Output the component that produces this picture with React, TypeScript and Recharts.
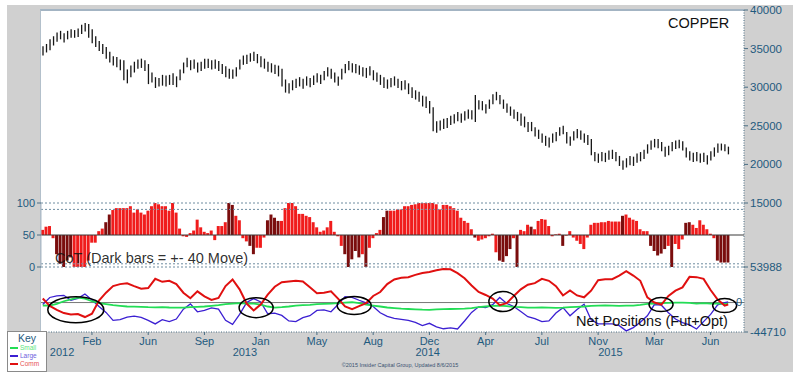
import React from 'react';
import { ComposedChart, Bar, Line, XAxis, YAxis, ReferenceLine, ReferenceDot, Cell } from 'recharts';

// one bar per week, week 0 = late Nov 2011
const monthTicks = [14, 30, 46, 62, 78, 94, 110, 126, 142, 158, 174, 190];
const monthLabels = ['Feb', 'Jun', 'Sep', 'Jan', 'May', 'Aug', 'Dec', 'Apr', 'Jul', 'Nov', 'Mar', 'Jun'];
const yearTicks = [5.5, 57.5, 109.5, 161.5];
const yearLabels = ['2012', '2013', '2014', '2015'];

const priceTicks = [15000, 20000, 25000, 30000, 35000, 40000];
const cotTicks = [0, 50, 100];
const netTicks = [-44710, 53988];

const priceHigh = [
  35300, 35600, 36200, 36600, 37100, 37300, 37000, 37300, 37500, 37400,
  37600, 38100, 38300, 38200, 37500, 36600, 36000, 35600, 35200, 34600,
  34000, 33900, 33600, 33500, 32300, 32800, 33300, 33600, 33700, 33500,
  33000, 31900, 31300, 31200, 31600, 31500, 31600, 31800, 31400, 32300,
  33200, 33800, 33500, 33600, 33200, 33300, 33700, 33700, 33500, 33600,
  33400, 33000, 32700, 32400, 32300, 32600, 33600, 34100, 34200, 34400,
  34600, 34300, 34000, 33700, 33300, 33100, 32900, 32800, 32400, 31000,
  30500, 30900, 31100, 31300, 31100, 31400, 31200, 31500, 31800, 31600,
  32100, 32600, 32400, 31900, 31400, 32400, 33000, 33400, 33100, 33000,
  32800, 32600, 32500, 32700, 32200, 31900, 31600, 31300, 31000, 31200,
  31400, 31100, 30800, 30900, 30500, 30000, 29600, 29400, 28900, 28800,
  28200, 27400, 25600, 25700, 25900, 26000, 26300, 26500, 26800, 26600,
  26900, 27100, 27000, 29000, 28300, 28200, 27800, 28400, 29100, 29400,
  29000, 28400, 27900, 27500, 27100, 26800, 26600, 26200, 25500, 25500,
  24800, 24500, 24000, 23700, 23500, 24000, 24200, 24800, 25000, 24200,
  23600, 24300, 24600, 24400, 24000, 23800, 23300, 21600, 21400, 21600,
  21500, 21800, 21900, 21600, 21100, 20500, 20800, 21100, 21000, 21400,
  21600, 21900, 22600, 23100, 23300, 23300, 22900, 22300, 22400, 22900,
  23100, 23200, 23000, 22200, 21700, 21500, 21600, 21400, 21500, 21200,
  21700, 22200, 22700, 22700, 22600, 22300,
];

const priceLow = [
  34100, 34500, 34800, 35400, 35900, 36200, 35800, 36200, 36400, 36400,
  36500, 36900, 37200, 36400, 35700, 35200, 34700, 34300, 33700, 33200,
  32800, 32600, 32200, 30900, 30500, 31300, 31900, 32400, 32500, 32100,
  30400, 30600, 29900, 30100, 30200, 30100, 30300, 30300, 30000, 30900,
  31800, 32600, 32200, 32400, 31900, 32100, 32400, 32500, 32300, 32400,
  32100, 31700, 31300, 31100, 31100, 31400, 32300, 32900, 33000, 33300,
  33400, 33100, 32600, 32400, 32000, 31900, 31700, 31400, 30100, 29300,
  29200, 29600, 29900, 30100, 29800, 30200, 30000, 30300, 30600, 30400,
  30900, 31400, 31100, 30600, 30200, 31000, 31800, 32200, 31900, 31800,
  31600, 31400, 31200, 31500, 30900, 30700, 30300, 29900, 29800, 30000,
  30200, 29900, 29600, 29700, 29100, 28600, 28400, 28100, 27500, 27300,
  26600, 24300, 24100, 24400, 24600, 24700, 25100, 25300, 25600, 25400,
  25700, 25900, 25800, 25500, 27100, 27000, 26600, 27200, 27800, 28300,
  27800, 27200, 26700, 26300, 25900, 25600, 25000, 24800, 24200, 24300,
  23600, 23300, 22800, 22400, 22200, 22800, 23000, 23700, 23900, 22700,
  22400, 23100, 23400, 23200, 22800, 22500, 21200, 20400, 20200, 20400,
  20300, 20600, 20700, 20400, 19800, 19300, 19600, 19900, 19800, 20200,
  20400, 20700, 21400, 21900, 22200, 22100, 21700, 21000, 21200, 21700,
  22000, 22100, 21800, 20900, 20500, 20300, 20400, 20200, 20300, 20000,
  20500, 21000, 21500, 21800, 21700, 21300,
];

// COT index 0..100, bars hang from 50
const cotIndex = [
  58, 63, 64, 45, 20, 5, 0, 10, 15, 0,
  0, 0, 0, 10, 38, 38, 56, 60, 70, 82,
  89, 92, 92, 92, 92, 95, 85, 90, 85, 82,
  88, 95, 100, 98, 95, 95, 88, 100, 85, 60,
  48, 47, 53, 57, 74, 62, 55, 53, 57, 42,
  64, 64, 70, 100, 97, 80, 73, 45, 40, 33,
  20, 30, 30, 46, 73, 82, 77, 72, 72, 92,
  100, 100, 95, 83, 83, 80, 78, 70, 62, 55,
  57, 62, 72, 55, 48, 33, 20, 0, 12, 25,
  15, 20, 0, 30, 45, 53, 58, 78, 88, 88,
  88, 90, 90, 95, 95, 97, 98, 100, 100, 100,
  100, 100, 98, 90, 97, 97, 95, 92, 88, 77,
  72, 69, 59, 46, 41, 43, 45, 48, 52, 23,
  10, 8, 17, 28, 45, 0, 58, 56, 66, 63,
  59, 72, 75, 74, 64, 48, 51, 52, 33, 49,
  56, 46, 41, 36, 28, 46, 66, 69, 69, 70,
  70, 72, 71, 71, 71, 80, 82, 77, 74, 72,
  59, 56, 56, 33, 25, 18, 21, 28, 33, 0,
  36, 28, 43, 69, 70, 66, 61, 73, 66, 59,
  52, 45, 10, 7, 7, 7,
];

// weeks with a +-40 move (dark bars)
const cotDarkWeeks = [
  4, 5, 6, 7, 8, 18, 19, 53, 54, 59, 60, 64, 65, 66, 67, 86, 87, 88, 89, 90, 92,
  97, 98, 123, 130, 131, 132, 133, 135, 139, 148, 165, 173, 174, 175, 176, 177,
  179, 183, 184, 192, 193, 194, 195,
];

// net positions, sampled every 2nd week (+ last week)
const commNet = [
  6200, -5000, -11000, -16000, -18000, -17500, -22000, -17000, 3000, 15000,
  25000, 28000, 29300, 25000, 21000, 22000, 36000, 31500, 33000, 28000,
  15000, 6500, 17000, 9500, 4000, 7000, 25000, 35000, 20000, -1500,
  -12000, -3000, 12000, 24000, 31000, 32000, 33000, 32000, 23100, 14000,
  15000, 17000, 6000, -6000, -10000, -5500, -1000, 10000, 16000, 28000,
  35000, 37500, 38500, 42000, 45000, 46300, 49000, 51000, 50500, 44700,
  37000, 26000, 16000, 11500, 6000, -4000, -1000, 10000, 20000, 27000,
  29500, 36000, 33000, 25000, 10800, 18500, 10800, 8000, 18000, 34000,
  35500, 35500, 41000, 47800, 41000, 33000, 8000, 0, -3000, 10000,
  18000, 23000, 39000, 38600, 36000, 19000, 4500, -4600,
  -3000,
];

const largeNet = [
  -3000, 7700, 10000, 11000, 3500, 6500, 13000, 4000, -6000, -15000,
  -27000, -26000, -22000, -20500, -22500, -27000, -32400, -26000, -29000, -25000,
  -10000, -2000, -14000, -12000, -8000, -10000, -27000, -33000, -18000, 0,
  6000, 1000, -17000, -16000, -19500, -28000, -29000, -23000, -20000, -12000,
  -11000, -14000, -3000, 9000, 8000, 3500, -500, -6000, -15500, -21000,
  -24000, -25500, -27000, -30000, -35000, -31500, -37000, -39800, -38600, -40100,
  -28000, -15000, -6500, -7500, -3100, 7700, -1500, -6000, -13500, -21500,
  -24500, -29000, -28000, -16000, -7700, -20000, -10500, -2500, -26000, -32400,
  -32400, -32400, -35000, -43000, -38000, -30000, -20000, -3000, -4000, -15400,
  -25000, -30500, -34000, -40100, -29000, -18000, -3500, 0,
  1000,
];

const smallNet = [
  -4500, -4600, -2000, 2000, 5000, 7500, 6000, 2000, -1000, -2500,
  -4000, -5000, -6000, -6200, -6500, -7000, -7200, -7000, -7500, -7700,
  -7700, -7000, -6500, -6000, -5000, -4000, -2500, -1500, -1000, -1500,
  -1500, -3000, -6000, -7700, -7000, -6000, -4600, -4000, -3500, -2500,
  -2000, -1500, -1000, 0, 500, -1000, -3000, -4600, -6000, -7500,
  -8500, -9300, -9800, -10300, -10800, -11000, -10500, -10000, -9800, -9500,
  -9300, -8500, -7000, -6000, -5000, -4600, -5500, -6500, -7000, -7700,
  -7700, -7500, -7700, -8000, -7700, -7000, -6500, -6000, -5000, -4600,
  -4500, -4600, -5000, -4800, -4600, -3500, -2000, -1500, -1000, -500,
  0, 0, -500, -1500, -1000, -1500, -1500, -2000,
  -2000,
];

// circled crossings on the net positions panel
const rings = [
  { w: 9.4, v: -10800, rx: 28, ry: 13 },
  { w: 60.7, v: -7700, rx: 17, ry: 10 },
  { w: 88.6, v: -4600, rx: 17, ry: 9 },
  { w: 130.9, v: 1500, rx: 14, ry: 10 },
  { w: 175.9, v: -3100, rx: 12, ry: 7 },
  { w: 194, v: -4600, rx: 12, ry: 7 },
];

const axisColor = '#1f5a7e';
const axisLineColor = '#4b6e84';
const font = 'Arial, "Liberation Sans", sans-serif';
const X_DOMAIN: [number, number] = [-0.5, 199.5];

const priceData = priceHigh.map((h, i) => ({ w: i, range: [priceLow[i], h] }));
const cotData = cotIndex.map((v, i) => ({
  w: i,
  range: [Math.min(50, v), Math.max(50, v)],
  dark: cotDarkWeeks.includes(i),
}));
const netWeeks = Array.from({ length: 98 }, (_, k) => k * 2).concat(195);
const netData = netWeeks.map((w, k) => ({ w, comm: commNet[k], large: largeNet[k], small: smallNet[k] }));

const PriceBar = (p: any) => {
  const cx = p.x + p.width / 2;
  return <line x1={cx} x2={cx} y1={p.y} y2={p.y + p.height} stroke="#161616" strokeWidth={1.3} />;
};

const tickStyle = { fill: axisColor, fontSize: 11.5, fontFamily: font };
const dotted = { stroke: axisLineColor, strokeDasharray: '1 1.5' };

const App: React.FC = () => {
  return (
    <div style={{ position: 'absolute', left: 0, top: 0, width: 800, height: 379, background: '#fff', fontFamily: font, overflow: 'hidden' }}>
      <div style={{ position: 'absolute', left: 7, top: 5, width: 786, height: 367, background: '#d0d0d0' }} />
      <div style={{ position: 'absolute', left: 40, top: 9, width: 704, height: 323, background: '#fff', borderTop: '2px solid #a3b4c3', borderLeft: '1px solid #b3c0cb', boxSizing: 'border-box' }} />

      {/* price panel */}
      <div style={{ position: 'absolute', left: 0, top: 0 }}>
        <ComposedChart width={800} height={213} data={priceData} margin={{ top: 10, right: 0, bottom: 10, left: 41 }}>
          <XAxis type="number" dataKey="w" domain={X_DOMAIN} hide />
          <YAxis
            orientation="right"
            width={56}
            domain={[15000, 40000]}
            ticks={priceTicks}
            interval={0}
            tick={tickStyle}
            tickSize={4}
            tickMargin={2}
            axisLine={dotted}
            tickLine={{ stroke: axisLineColor }}
            allowDataOverflow
          />
          <Bar dataKey="range" barSize={2} shape={(p: any) => <PriceBar {...p} />} isAnimationActive={false} />
        </ComposedChart>
      </div>

      {/* COT index panel */}
      <div style={{ position: 'absolute', left: 0, top: 195 }}>
        <ComposedChart width={800} height={80} data={cotData} margin={{ top: 8, right: 56, bottom: 8, left: 8 }}>
          <XAxis type="number" dataKey="w" domain={X_DOMAIN} hide />
          <YAxis
            width={33}
            domain={[0, 100]}
            ticks={cotTicks}
            interval={0}
            tick={{ ...tickStyle, fontSize: 11 }}
            tickSize={4}
            tickMargin={2}
            axisLine={{ stroke: '#aab8c4' }}
            tickLine={{ stroke: axisLineColor }}
          />
          <ReferenceLine y={100} stroke="#6e8ca0" strokeDasharray="2 2" />
          <ReferenceLine y={90} stroke="#6e8ca0" strokeDasharray="2 2" />
          <ReferenceLine y={5} stroke="#6e8ca0" strokeDasharray="2 2" />
          <ReferenceLine y={0} stroke="#6e8ca0" strokeDasharray="2 2" />
          <ReferenceLine x={199.5} stroke={axisLineColor} strokeDasharray="1 1.5" />
          <ReferenceLine y={50} stroke="#3a3a3a" />
          <Bar dataKey="range" barSize={3} isAnimationActive={false}>
            {cotData.map((d) => (
              <Cell key={d.w} fill={d.dark ? '#7a0d0d' : '#f01c1c'} />
            ))}
          </Bar>
        </ComposedChart>
      </div>

      {/* net positions panel */}
      <div style={{ position: 'absolute', left: 0, top: 259 }}>
        <ComposedChart width={800} height={103} data={netData} margin={{ top: 8, right: 0, bottom: 0, left: 41 }}>
          <XAxis
            type="number"
            dataKey="w"
            domain={X_DOMAIN}
            ticks={monthTicks}
            interval={0}
            tickFormatter={(v: number) => monthLabels[monthTicks.indexOf(v)]}
            height={14}
            tickSize={3}
            tickMargin={2}
            axisLine={dotted}
            tickLine={{ stroke: axisLineColor }}
            tick={{ ...tickStyle, fontSize: 11 }}
          />
          <XAxis
            xAxisId="yr"
            type="number"
            dataKey="w"
            domain={X_DOMAIN}
            ticks={yearTicks}
            interval={0}
            tickFormatter={(v: number) => yearLabels[yearTicks.indexOf(v)]}
            height={16}
            tickSize={0}
            tickMargin={2}
            axisLine={false}
            tickLine={false}
            tick={{ ...tickStyle, fontSize: 11 }}
          />
          <YAxis
            orientation="right"
            width={56}
            domain={[-44710, 53988]}
            ticks={netTicks}
            interval={0}
            tick={tickStyle}
            tickSize={4}
            tickMargin={2}
            axisLine={dotted}
            tickLine={{ stroke: axisLineColor }}
            allowDataOverflow
          />
          <ReferenceLine
            y={0}
            stroke="#777"
            label={{ value: '0', position: 'insideRight', offset: 2, fill: axisColor, fontSize: 11, fontFamily: font }}
          />
          <Line dataKey="large" stroke="#3b1fd2" strokeWidth={1.3} dot={false} isAnimationActive={false} />
          <Line dataKey="small" stroke="#22dd55" strokeWidth={1.8} dot={false} isAnimationActive={false} />
          <Line dataKey="comm" stroke="#e01010" strokeWidth={2} dot={false} isAnimationActive={false} />
          {rings.map((r, k) => (
            <ReferenceDot
              key={k}
              x={r.w}
              y={r.v}
              r={1}
              shape={(p: any) => <ellipse cx={p.cx} cy={p.cy} rx={r.rx} ry={r.ry} fill="none" stroke="#000" strokeWidth={1.5} />}
            />
          ))}
        </ComposedChart>
      </div>

      <div style={{ position: 'absolute', left: 668, top: 15, fontSize: 14.5, color: '#111' }}>COPPER</div>
      <div style={{ position: 'absolute', left: 55, top: 250, fontSize: 14.5, color: 'rgba(20,20,20,0.9)', whiteSpace: 'nowrap' }}>
        CoT (Dark bars = +- 40 Move)
      </div>
      <div style={{ position: 'absolute', left: 576, top: 313, fontSize: 14.5, color: '#111', whiteSpace: 'nowrap' }}>
        Net Positions (Fut+Opt)
      </div>

      {/* key */}
      <div style={{ position: 'absolute', left: 7, top: 331, width: 40, height: 41, background: '#fff', border: '1px solid #8a8a8a', boxSizing: 'border-box' }}>
        <div style={{ textAlign: 'center', fontSize: 10.5, color: axisColor, marginTop: 1, lineHeight: '11px' }}>Key</div>
        {[
          ['Small', '#22dd55'],
          ['Large', '#3b1fd2'],
          ['Comm', '#e01010'],
        ].map(([name, c]) => (
          <div key={name} style={{ display: 'flex', alignItems: 'center', height: 8, marginLeft: 2 }}>
            <div style={{ width: 8, height: 1.5, background: c, marginRight: 2 }} />
            <span style={{ fontSize: 6.5, color: c, opacity: 0.75, lineHeight: '8px' }}>{name}</span>
          </div>
        ))}
      </div>

      <div style={{ position: 'absolute', left: 0, width: 800, top: 362, textAlign: 'center', fontSize: 5.5, color: '#3a5070' }}>
        ©2015 Insider Capital Group, Updated 8/6/2015
      </div>
    </div>
  );
};

export default App;
